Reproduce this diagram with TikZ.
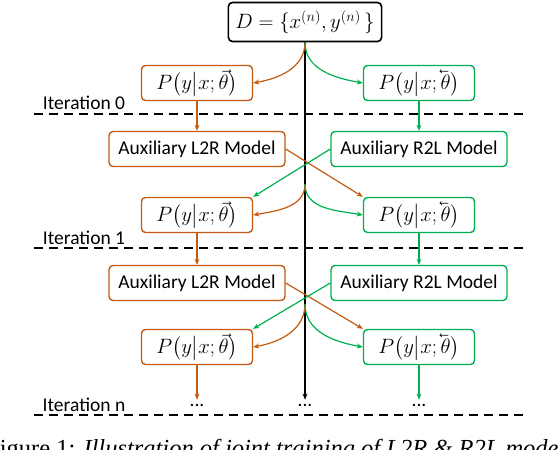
\documentclass[tikz,border=0pt]{standalone}
\usepackage{amsmath,amssymb}
\usepackage{fontspec}
\setmainfont{Carlito}
\newfontfamily\capfont{Liberation Serif}
\usetikzlibrary{arrows.meta}
\definecolor{lrorange}{HTML}{C55A11}
\definecolor{rlgreen}{HTML}{00B050}
\newcommand{\backvec}[1]{\reflectbox{$\vec{\reflectbox{$#1$}}$}}
\newcommand{\probl}{$P\big(y\big|x;\vec{\theta}\big)$}
\newcommand{\probr}{$P\big(y\big|x;\backvec{\theta}\big)$}

\begin{document}
\begin{tikzpicture}[x=1pt,y=-1pt,
    %
    box/.style={rectangle, draw, rounded corners=4pt, line width=1.4pt,
    minimum height=35pt, inner xsep=7pt},
    lbox/.style={box, draw=lrorange},
    rbox/.style={box, draw=rlgreen},
    flow/.style={line width=1.2pt, -{Stealth[length=6pt,width=5pt]}},
    sep/.style={line width=1.3pt, dash pattern=on 9pt off 6pt}]
    \tikzstyle{every node}=[font=\fontsize{19.5}{23}\selectfont]
    \useasboundingbox (0,0) rectangle (560,450);

    \node[box, line width=1.6pt, minimum width=152pt, minimum height=39pt] (data) at (305,22) {$D=\{x^{(n)},y^{(n)}\,\}$};

    \node[lbox, minimum width=111pt] (pl0) at (197,83) {\probl};
    \node[rbox, minimum width=111pt] (pr0) at (419,83) {\probr};
    \node[lbox, minimum width=176pt] (al1) at (197,149) {Auxiliary L2R Model};
    \node[rbox, minimum width=176pt] (ar1) at (419,149) {Auxiliary R2L Model};
    \node[lbox, minimum width=111pt] (pl1) at (197,215) {\probl};
    \node[rbox, minimum width=111pt] (pr1) at (419,215) {\probr};
    \node[lbox, minimum width=176pt] (al2) at (197,283) {Auxiliary L2R Model};
    \node[rbox, minimum width=176pt] (ar2) at (419,283) {Auxiliary R2L Model};
    \node[lbox, minimum width=111pt] (pl2) at (197,347) {\probl};
    \node[rbox, minimum width=111pt] (pr2) at (419,347) {\probr};
    \node[inner sep=4pt] (dotl) at (197,405) {...};
    \node[inner sep=4pt] (dotm) at (305,405) {...};
    \node[inner sep=4pt] (dotr) at (419,405) {...};

    \node (it0) at (84,103) {Iteration 0};
    \node (it1) at (84,238) {Iteration 1};
    \node (itn) at (84,405) {Iteration n};
    \draw[sep] (34,114) -- (523,114);
    \draw[sep] (34,248) -- (523,248);
    \draw[sep] (34,415) -- (523,415);

    \coordinate (fork1) at (305,184);
    \coordinate (fork2) at (305,304);
    \draw[flow, line width=1.4pt] (data.south) -- (dotm.north);

    \draw[flow, lrorange] (data.south) to[out=-90, in=10] (pl0.east);
    \draw[flow, rlgreen] (data.south) to[out=-90, in=170] (pr0.west);
    \draw[flow, lrorange] (pl0) -- (al1);
    \draw[flow, rlgreen] (pr0) -- (ar1);
    \draw[flow, lrorange] (al1.east) -- (pr1.north west);
    \draw[flow, rlgreen] (ar1.west) -- (pl1.north east);
    \draw[flow, lrorange] (fork1) to[out=-90, in=10] (pl1.east);
    \draw[flow, rlgreen] (fork1) to[out=-90, in=170] (pr1.west);
    \draw[flow, lrorange] (pl1) -- (al2);
    \draw[flow, rlgreen] (pr1) -- (ar2);
    \draw[flow, lrorange] (al2.east) -- (pr2.north west);
    \draw[flow, rlgreen] (ar2.west) -- (pl2.north east);
    \draw[flow, lrorange] (fork2) to[out=-90, in=10] (pl2.east);
    \draw[flow, rlgreen] (fork2) to[out=-90, in=170] (pr2.west);
    \draw[flow, lrorange] (pl2) -- (dotl);
    \draw[flow, rlgreen] (pr2) -- (dotr);

    \node[anchor=base west, inner sep=0pt, font=\capfont\fontsize{24.5}{30}\selectfont] (caption) at (-14,456) {Figure 1: \textit{Illustration of joint training of L2R \& R2L models}};
\end{tikzpicture}
\end{document}
